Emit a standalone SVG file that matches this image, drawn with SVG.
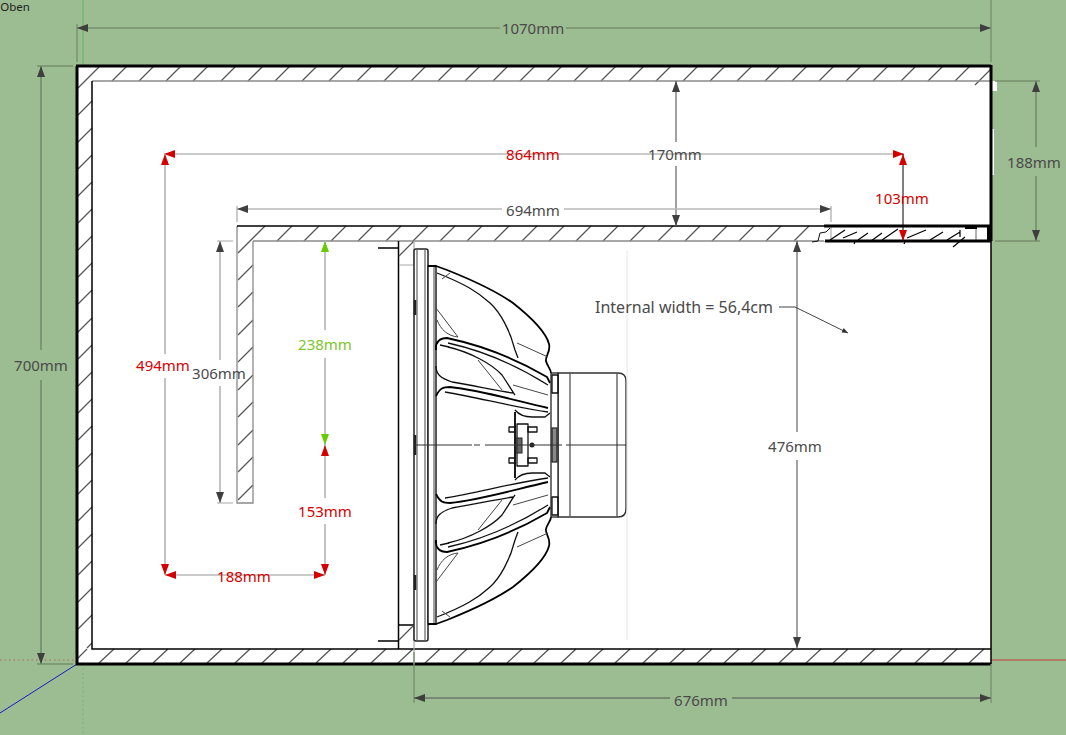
<svg xmlns="http://www.w3.org/2000/svg" width="1066" height="735" viewBox="0 0 1066 735">
<style>
text{font-family:"Noto Sans","Liberation Sans",sans-serif;font-size:15px;font-weight:400;text-anchor:middle;dominant-baseline:central;fill:#4a4a4a}
text.r{fill:#d40000}
text.g{fill:#7cc62a}
.wall{fill:#fff;stroke:none}
.k{fill:none;stroke:#000;stroke-width:1.5}
.K{fill:none;stroke:#000;stroke-width:3}
.h{fill:none;stroke:#555;stroke-width:1.3}
.gl{fill:none;stroke:#8a8a8a;stroke-width:1.3}
.d{fill:none;stroke:#b9b9b9;stroke-width:1.7}
.dd{fill:none;stroke:#75906d;stroke-width:1.7}
.dk{fill:none;stroke:#555;stroke-width:1.1}
.ext{fill:none;stroke:#75906d;stroke-width:1.3}
.extw{fill:none;stroke:#aaa;stroke-width:1.2}
.a{marker-start:url(#ad);marker-end:url(#ad)}
.ar{marker-start:url(#ar);marker-end:url(#ar)}
.ag{marker-start:url(#ag);marker-end:url(#ag)}
.s{fill:none;stroke:#111;stroke-width:1.3;stroke-linejoin:round}
.S{fill:none;stroke:#000;stroke-width:1.8;stroke-linejoin:round}
.t{fill:none;stroke:#444;stroke-width:1}
</style>
<defs>
<filter id="soft" x="-5%" y="-5%" width="110%" height="110%"><feGaussianBlur stdDeviation="0.35"/></filter>
<marker id="ad" viewBox="-12 -5 13 10" refX="0" refY="0" markerWidth="13" markerHeight="10" markerUnits="userSpaceOnUse" orient="auto-start-reverse"><path d="M0,0L-11,-4V4Z" fill="#3f3f3f"/></marker>
<marker id="ar" viewBox="-12 -5 13 10" refX="0" refY="0" markerWidth="13" markerHeight="10" markerUnits="userSpaceOnUse" orient="auto-start-reverse"><path d="M0,0L-11,-4V4Z" fill="#d40000"/></marker>
<marker id="ag" viewBox="-12 -5 13 10" refX="0" refY="0" markerWidth="13" markerHeight="10" markerUnits="userSpaceOnUse" orient="auto-start-reverse"><path d="M0,0L-11,-4V4Z" fill="#66cc00"/></marker>
<marker id="al" viewBox="-7 -3 8 6" refX="0" refY="0" markerWidth="8" markerHeight="6" markerUnits="userSpaceOnUse" orient="auto"><path d="M0,0L-6,-2.500V2.500Z" fill="#333"/></marker>
<g id="half">
<path class="S" d="M428,266H436L447,270C462,276 490,287 513,303C532,318 546,332 549,344C551,352 545,356 546,361C547,366 551,369 551,373"/>
<path class="s" d="M437,273C465,284 478,292 490,303C500,312 510,330 515,350L518,358"/>
<path class="t" d="M517,343L548,357M442,279L450,273M436,308L458,337M437,320C441,330 448,336 458,337"/>
<path class="S" d="M436,350C435,342 440,338 447,338C480,345 513,357 547,377L550,383"/>
<path class="s" d="M448,343C480,350 513,363 548,385M440,345L449,347"/>
<path class="s" d="M448,347C470,352 492,364 502,375C508,384 512,391 515,395M436,366C436,374 440,378 452,382C475,386 495,390 513,393"/>
<path class="t" d="M478,360L502,390M513,385L548,395"/>
<path class="S" d="M436,396C440,388 443,387 450,387C480,390 513,400 548,408"/>
<path class="s" d="M445,392C480,398 513,407 548,412M515,410C520,416 527,417 532,417H545L550,413"/>
</g>
</defs>
<rect width="1066" height="735" fill="#9cbc92"/>
<g id="axes" fill="none">
<path d="M83,0V66" stroke="#6bb86b" stroke-width="1.3"/>
<path d="M83,664V735" stroke="#6bb86b" stroke-width="1" stroke-dasharray="1.5 3"/>
<path d="M0,660H77" stroke="#b06a5a" stroke-width="1" stroke-dasharray="1.5 3"/>
<path d="M991,660H1066" stroke="#cc3a3a" stroke-width="1"/>
<path d="M77,664L0,713" stroke="#1a1ac8" stroke-width="1"/>
</g>
<g id="cabinet">
<rect class="wall" x="77" y="66" width="914" height="598"/>
<rect class="wall" x="991" y="81" width="6" height="10"/>
<rect class="wall" x="992" y="129" width="2" height="46"/>
<path class="h" d="M78,88L100,66M112,81L127,66M139,81L154,66M166,81L181,66M193,81L208,66M221,81L236,66M248,81L263,66M275,81L290,66M302,81L317,66M329,81L344,66M357,81L372,66M384,81L399,66M411,81L426,66M438,81L453,66M465,81L480,66M493,81L508,66M520,81L535,66M547,81L562,66M574,81L589,66M601,81L616,66M629,81L644,66M656,81L671,66M683,81L698,66M710,81L725,66M737,81L752,66M765,81L780,66M792,81L807,66M819,81L834,66M846,81L861,66M873,81L888,66M901,81L916,66M928,81L943,66M955,81L970,66M975,85L990,70"/>
<path class="h" d="M78,115L92,101M78,142L92,128M78,169L92,155M78,196L92,182M78,223L92,209M78,250L92,236M78,277L92,263M78,304L92,290M78,332L92,318M78,359L92,345M78,386L92,372M78,413L92,399M78,440L92,426M78,467L92,453M78,494L92,480M78,521L92,507M78,548L92,534M78,575L92,561M78,602L92,588M78,629L92,615M87,648L92,643"/>
<path class="h" d="M78,658L87,649M99,663L114,649M126,663L141,649M153,663L168,649M180,663L195,649M207,663L222,649M235,663L250,649M262,663L277,649M289,663L304,649M316,663L331,649M343,663L358,649M371,663L386,649M398,663L413,649M425,663L440,649M452,663L467,649M479,663L494,649M507,663L522,649M534,663L549,649M561,663L576,649M588,663L603,649M615,663L630,649M643,663L658,649M670,663L685,649M697,663L712,649M724,663L739,649M751,663L766,649M779,663L794,649M806,663L821,649M833,663L848,649M860,663L875,649M887,663L902,649M915,663L930,649M942,663L957,649M969,663L984,649"/>
<path class="gl" d="M92,81H991"/>
<path class="k" d="M92,81V649H991M991,241V664"/>
<path class="K" d="M77,66V664H991M76,66H991M991,65V241"/>
</g>
<g id="inner-wall">
<path class="h" d="M238,253L265,226M277,241L292,226M304,241L319,226M331,241L346,226M358,241L373,226M386,241L401,226M413,241L428,226M440,241L455,226M467,241L482,226M494,241L509,226M522,241L537,226M549,241L564,226M576,241L591,226M603,241L618,226M630,241L645,226M658,241L673,226M685,241L700,226M712,241L727,226M739,241L754,226M766,241L781,226M794,241L809,226"/>
<path class="h" d="M238,280L253,265M238,307L253,292M238,335L253,320M238,362L253,347M238,390L253,375M238,417L253,402M238,445L253,430M238,472L253,457M238,500L253,485"/>
<path class="gl" d="M253,241V503H237V226M253,241H826"/>
<path class="k" d="M237,226H826"/>
</g>
<g id="port">
<path fill="#fff" stroke="none" d="M824,227H991V241H824Z"/>
<path d="M812,242L818,241L820,233L826,232L830,228" fill="none" stroke="#111" stroke-width="1"/>
<path class="extw" d="M831,227V241"/>
<path fill="none" stroke="#000" stroke-width="1.2" d="M830,240L845,230M843,238L857,232M858,240L868,233M871,241L882,233M882,240L898,229M907,238L926,230M930,240L943,232M947,240L960,232M953,247L965,237M960,230V237M854,244L855,242M904,244L905,242"/>
<path class="gl" d="M976,227V241"/>
<path d="M824,226H991M825,241H991" fill="none" stroke="#000" stroke-width="3"/>
<path d="M965,228H977" stroke="#000" stroke-width="2" fill="none"/>
<rect x="987" y="226" width="4" height="15" fill="#000"/>
</g>
<g id="baffle">
<path class="k" d="M398.5,241V649M378,248H399M378,641H399M399,625H414"/>
<path class="h" d="M399,256L414,241M399,640L414,625"/>
<path class="extw" d="M399,265H414M414,241V265M414,625V664"/>
</g>
<g id="driver" filter="url(#soft)">
<path fill="#fff" stroke="#222" stroke-width="1.500" d="M414,251Q414,249 416,249H426Q428,249 428,251V639Q428,641 426,641H416Q414,641 414,639Z"/>
<path class="t" d="M417,250V640M425,250V640"/>
<path stroke="#222" stroke-width="2.500" fill="none" d="M415,300V315M415,435V455M415,575V590"/>
<rect x="428" y="266" width="8" height="358" fill="#fff" stroke="#222" stroke-width="1.500"/>
<path class="t" d="M434,266V624"/>
<use href="#half"/>
<use href="#half" transform="matrix(1 0 0 -1 0 890)"/>
<path fill="#fff" stroke="#333" stroke-width="1.400" d="M558,373H618Q626,373 626,381V509Q626,517 618,517H558Z"/>
<path class="gl" d="M570,373V517M617,373V517" style="stroke:#555"/>
<rect x="551" y="373" width="7" height="144" fill="#fff" stroke="#222" stroke-width="1.300"/>
<path class="s" d="M552,375H558V393H552ZM552,497H558V515H552Z"/>
<rect x="552" y="428" width="5" height="34" fill="#888" stroke="#222" stroke-width="1.200"/>
<path class="S" d="M515,412V478"/>
<path class="s" d="M517,424H528V466H517Z"/>
<path class="s" d="M509,427H515V432H509ZM528,427H537V432H528ZM509,458H515V463H509ZM528,458H537V463H528Z"/>
<rect x="517" y="438" width="5" height="15" fill="#666" stroke="#222"/>
<circle cx="532" cy="445" r="2.500" fill="#222"/>
<path stroke="#333" stroke-width="1.100" fill="none" d="M414,445H472M474,445H480M485,445H562M566,445H627"/>
<path stroke="#e6e6e6" stroke-width="1" fill="none" d="M627,251V640"/>
</g>
<g id="connectors">
<path class="ext" d="M77,24V62M991,0V62M37,66H73M37,664H73M995,81H1040M995,241H1040"/>
<path class="extw" d="M237,206V222M831,206V222M217,241H233M217,503H233"/>
<path class="ext" d="M414,652V703M991,664V703"/>
<path class="dd a" d="M77,28H500M566,28H991"/>
<path class="dd a" d="M41,66V350M41,380V664"/>
<path class="dd a" d="M1036,81V147M1036,176V241"/>
<path class="dk a" d="M414,698H670M732,698H991"/>
<path class="dk a" d="M676,81V142M676,166V226"/>
<path class="dk a" d="M797,241V432M797,460V648"/>
<path class="d a" d="M237,209H502M564,209H831"/>
<path class="d a" d="M220,241V360M220,386V503"/>
<path class="d ar" d="M164,154H904"/>
<path class="d ar" d="M165,154V354M165,378V575"/>
<path class="d ar" d="M165,575H325"/>
<path class="d ag" d="M325,241V330M325,358V445"/>
<path class="d ar" d="M325,445V498M325,524V575"/>
<path stroke="#000" stroke-width="1" fill="none" class="ar" d="M903,154V241"/>
<path stroke="#444" stroke-width="1" fill="none" marker-end="url(#al)" d="M779,307H795L848,333"/>
</g>
<g id="labels">
<text x="15" y="6" style="font-size:11.5px;fill:#222">Oben</text>
<text x="533" y="28">1070mm</text>
<text x="41" y="365">700mm</text>
<text x="1034" y="162">188mm</text>
<text x="533" y="154" class="r">864mm</text>
<text x="675" y="154">170mm</text>
<text x="902" y="198" class="r">103mm</text>
<text x="533" y="210">694mm</text>
<text x="163" y="365" class="r">494mm</text>
<text x="219" y="373">306mm</text>
<text x="325" y="344" class="g">238mm</text>
<text x="325" y="511" class="r">153mm</text>
<text x="244" y="576" class="r">188mm</text>
<text x="795" y="446">476mm</text>
<text x="701" y="700">676mm</text>
<text x="684" y="307" style="font-size:16px">Internal width = 56,4cm</text>
</g>
</svg>
